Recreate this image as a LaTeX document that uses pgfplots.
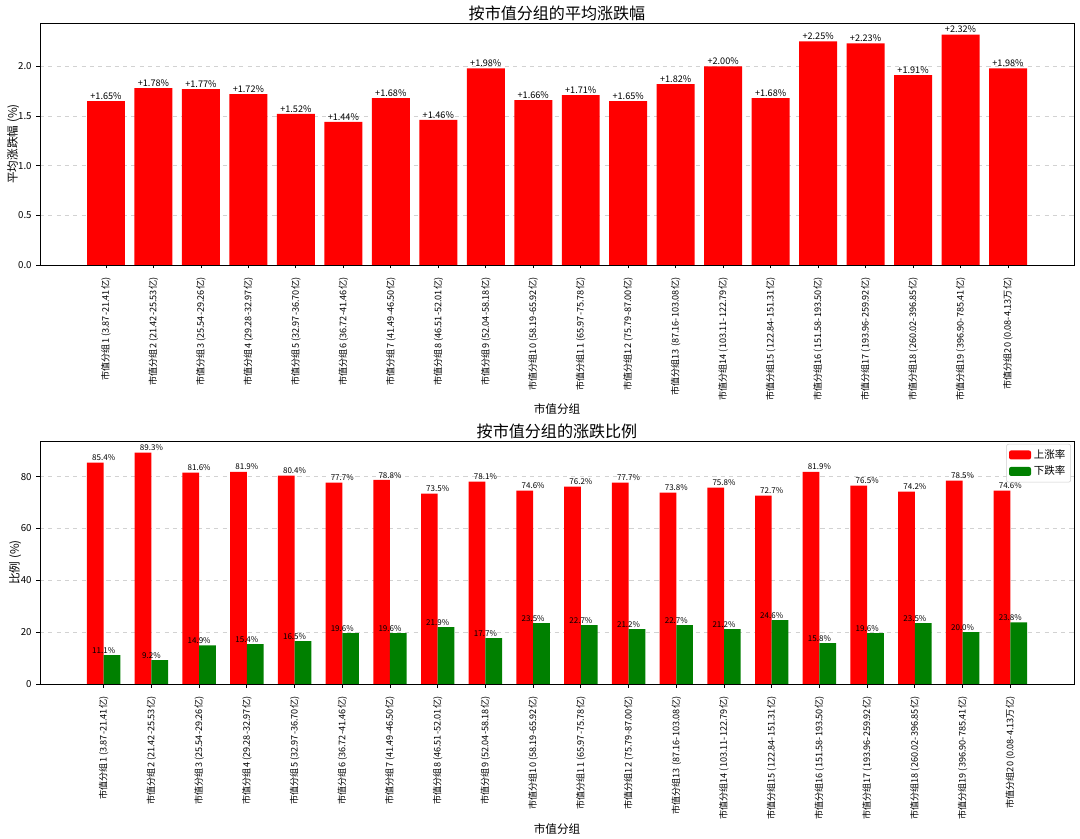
\documentclass[border=0pt]{standalone}
\usepackage{fontspec}
\setmainfont{Noto Sans CJK SC}
\usepackage{pgfplots}
\usepackage{pgfplotstable}
\pgfplotsset{compat=1.18}
\pgfkeys{/pgf/number format/assume math mode=true}

\pgfplotstableread{
x avg
0 1.65
1 1.78
2 1.77
3 1.72
4 1.52
5 1.44
6 1.68
7 1.46
8 1.98
9 1.66
10 1.71
11 1.65
12 1.82
13 2.00
14 1.68
15 2.25
16 2.23
17 1.91
18 2.32
19 1.98
}\avgtable

\pgfplotstableread{
x up down
0 85.4 11.1
1 89.3 9.2
2 81.6 14.9
3 81.9 15.4
4 80.4 16.5
5 77.7 19.6
6 78.8 19.6
7 73.5 21.9
8 78.1 17.7
9 74.6 23.5
10 76.2 22.7
11 77.7 21.2
12 73.8 22.7
13 75.8 21.2
14 72.7 24.6
15 81.9 15.8
16 76.5 19.6
17 74.2 23.5
18 78.5 20.0
19 74.6 23.8
}\ratiotable

\def\grouplabels{市值分组1 (3.87-21.41亿),市值分组2 (21.42-25.53亿),市值分组3 (25.54-29.26亿),市值分组4 (29.28-32.97亿),市值分组5 (32.97-36.70亿),市值分组6 (36.72-41.46亿),市值分组7 (41.49-46.50亿),市值分组8 (46.51-52.01亿),市值分组9 (52.04-58.18亿),市值分组10 (58.19-65.92亿),市值分组11 (65.97-75.78亿),市值分组12 (75.79-87.00亿),市值分组13 (87.16-103.08亿),市值分组14 (103.11-122.79亿),市值分组15 (122.84-151.31亿),市值分组16 (151.58-193.50亿),市值分组17 (193.96-259.92亿),市值分组18 (260.02-396.85亿),市值分组19 (396.90-785.41亿),市值分组20 (0.08-4.13万亿)}

\definecolor{mplgreen}{RGB}{0,128,0}

\pgfplotsset{
  common/.style={
    scale only axis,
    width=10.34in,
    anchor=south west,
    axis line style={black, line width=0.6pt},
    tick pos=left,
    tick align=outside,
    major tick length=0.035in,
    tick style={black, line width=0.6pt},
    xtick={0,...,19},
    xticklabels/.expanded={\grouplabels},
    xticklabel style={rotate=90, anchor=east, font=\fontsize{6.6}{8}\selectfont, inner sep=2pt},
    xticklabel shift=4.5pt,
    yticklabel style={font=\fontsize{7}{8}\selectfont},
    ymajorgrids,
    grid style={dashed, gray!35, line width=0.5pt},
    title style={font=\fontsize{11.6}{13}\selectfont, at={(axis description cs:0.5,1.041)}, anchor=center, yshift=-6pt},
    xlabel style={font=\fontsize{8.4}{10}\selectfont, at={(axis description cs:0.5,-0.595)}, anchor=center},
    ylabel style={font=\fontsize{8.4}{10}\selectfont, at={(axis description cs:-0.0261,0.5)}, anchor=center, rotate=0},
    ymin=0,
  },
}

\begin{document}
\begin{tikzpicture}
\path[use as bounding box] (0,0) rectangle (10.8in,8.39in);

\begin{axis}[common,
  at={(0.40in,5.74in)},
  height=2.42in,
  xmin=-1.39, xmax=20.39,
  ymax=2.436,
  ytick={0,0.5,1.0,1.5,2.0},
  yticklabel style={/pgf/number format/.cd, fixed, fixed zerofill, precision=1},
  title={按市值分组的平均涨跌幅},
  xlabel={市值分组},
  ylabel={平均涨跌幅 (\%)},
]
\addplot[ybar, bar width=0.8, fill=red, draw=none,
  nodes near coords={+\pgfmathprintnumber[fixed,fixed zerofill,precision=2]{\pgfplotspointmeta}\%},
  nodes near coords style={font=\fontsize{6.6}{7}\selectfont, inner sep=1pt, anchor=south, black}]
  table[x=x, y=avg] {\avgtable};
\end{axis}

\begin{axis}[common,
  at={(0.40in,1.55in)},
  height=2.43in,
  xmin=-1.335, xmax=20.335,
  ymax=93.765,
  ytick={0,20,40,60,80},
  title={按市值分组的涨跌比例},
  xlabel={市值分组},
  ylabel={比例 (\%)},
  ylabel style={at={(axis description cs:-0.024,0.5)}},
  legend style={at={(0.997,0.988)}, anchor=north east, font=\fontsize{7.6}{8.2}\selectfont,
    draw=gray!40, rounded corners=1.5pt, inner sep=1.8pt, row sep=0pt,
    cells={anchor=west}},
  legend image code/.code={\fill[#1] (0in,-0.045in) rectangle (0.22in,0.045in);},
]
\addplot[ybar, bar width=0.35, bar shift=-0.175, fill=red, draw=none,
  nodes near coords={\pgfmathprintnumber[fixed,fixed zerofill,precision=1]{\pgfplotspointmeta}\%},
  nodes near coords style={font=\fontsize{5.8}{6}\selectfont, inner sep=1pt, anchor=south, black}]
  table[x=x, y=up] {\ratiotable};
\addlegendentry{上涨率}
\addplot[ybar, bar width=0.35, bar shift=0.175, fill=mplgreen, draw=none,
  nodes near coords={\pgfmathprintnumber[fixed,fixed zerofill,precision=1]{\pgfplotspointmeta}\%},
  nodes near coords style={font=\fontsize{5.8}{6}\selectfont, inner sep=1pt, anchor=south, black}]
  table[x=x, y=down] {\ratiotable};
\addlegendentry{下跌率}
\end{axis}
\end{tikzpicture}
\end{document}
